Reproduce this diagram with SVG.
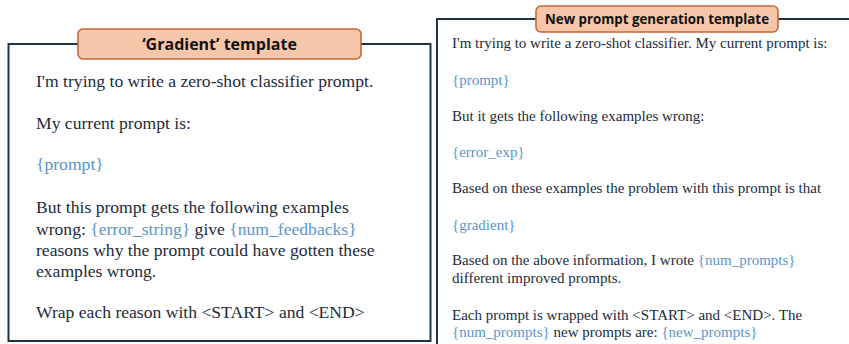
<svg xmlns="http://www.w3.org/2000/svg" width="849" height="344" viewBox="0 0 849 344">
<style>
.frame{fill:#ffffff;stroke:#1e3444;stroke-width:2}
.tag{fill:#f6c6aa;stroke:#c7653a;stroke-width:1.6}
.tagt{font-family:"Open Sans","Liberation Sans",sans-serif;font-weight:bold;fill:#111111;text-anchor:middle}
.body{font-family:"Liberation Serif","Times New Roman",serif;fill:#1c2b3c}
.l{font-size:17.6px}
.r{font-size:15px}
.ph{fill:#5b95c9}
</style>
<rect width="849" height="344" fill="#ffffff"/>
<g id="gradient-template">
<rect class="frame" x="8.5" y="44" width="422" height="297"/>
<rect class="tag" x="78" y="29" width="283" height="30" rx="5"/>
<text class="tagt" x="219.5" y="50" font-size="16">‘Gradient’ template</text>
<text class="body l" x="36" y="87">I'm trying to write a zero-shot classifier prompt.</text>
<text class="body l" x="36" y="129">My current prompt is:</text>
<text class="body l ph" x="36" y="170">{prompt}</text>
<text class="body l" x="36" y="213">But this prompt gets the following examples</text>
<text class="body l" x="36" y="235">wrong: <tspan class="ph">{error_string}</tspan> give <tspan class="ph">{num_feedbacks}</tspan></text>
<text class="body l" x="36" y="256">reasons why the prompt could have gotten these</text>
<text class="body l" x="36" y="277">examples wrong.</text>
<text class="body l" x="36" y="318">Wrap each reason with &lt;START&gt; and &lt;END&gt;</text>
</g>
<g id="new-prompt-template">
<rect class="frame" x="437" y="19" width="420" height="340"/>
<rect class="tag" x="536" y="6" width="242" height="26" rx="5"/>
<text class="tagt" x="657" y="24" font-size="13.3">New prompt generation template</text>
<text class="body r" x="452" y="48">I'm trying to write a zero-shot classifier. My current prompt is:</text>
<text class="body r ph" x="452" y="85">{prompt}</text>
<text class="body r" x="452" y="121">But it gets the following examples wrong:</text>
<text class="body r ph" x="452" y="157">{error_exp}</text>
<text class="body r" x="452" y="193">Based on these examples the problem with this prompt is that</text>
<text class="body r ph" x="452" y="230">{gradient}</text>
<text class="body r" x="452" y="265">Based on the above information, I wrote <tspan class="ph">{num_prompts}</tspan></text>
<text class="body r" x="452" y="283">different improved prompts.</text>
<text class="body r" x="452" y="320">Each prompt is wrapped with &lt;START&gt; and &lt;END&gt;. The</text>
<text class="body r" x="452" y="337"><tspan class="ph">{num_prompts}</tspan> new prompts are: <tspan class="ph">{new_prompts}</tspan></text>
</g>
<g id="connectors"/>
</svg>
